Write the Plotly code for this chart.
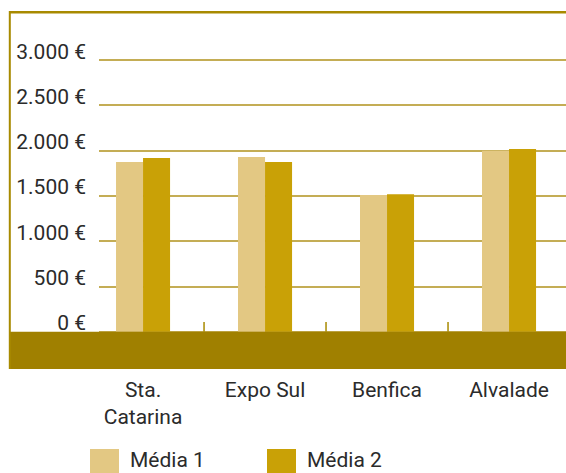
import plotly.graph_objects as go

categories = ["Sta.<br>Catarina", "Expo Sul", "Benfica", "Alvalade"]
series_names = ["Média 1", "Média 2"]
media1 = [1875, 1930, 1510, 2000]
media2 = [1920, 1875, 1520, 2020]
y_ticks = [0, 500, 1000, 1500, 2000, 2500, 3000]
y_tick_labels = ["0 €", "500 €", "1.000 €", "1.500 €", "2.000 €", "2.500 €", "3.000 €"]

colors = ["#e3c883", "#c9a106"]
FONT = "Roboto, Liberation Sans Narrow, sans-serif"
FS = 21
TXT = "#2b2b2b"

x = list(range(len(categories)))

fig = go.Figure()
for name, vals, c in zip(series_names, [media1, media2], colors):
    fig.add_trace(go.Bar(x=x, y=vals, name=name, marker=dict(color=c, line=dict(width=0)),
                         showlegend=False))

W, H = 566, 473
L, R, T, B = 99, 0, 12, 473 - 369
pw, ph = W - L - R, H - T - B

def px2paper_x(px):
    return (px - L) / pw

def px2paper_y(py):
    return (H - B - py) / ph

shapes = []
# floor
shapes.append(dict(type="rect", xref="paper", yref="y", x0=px2paper_x(10), x1=1,
                   y0=-410, y1=0, fillcolor="#a08000", line=dict(width=0), layer="above"))
# borders
shapes.append(dict(type="line", xref="paper", yref="paper", x0=px2paper_x(9.5), x1=1,
                   y0=px2paper_y(12.3), y1=px2paper_y(12.3), line=dict(color="#a88a00", width=2.5)))
shapes.append(dict(type="line", xref="paper", yref="paper", x0=px2paper_x(9.8), x1=px2paper_x(9.8),
                   y0=0, y1=px2paper_y(11), line=dict(color="#a88a00", width=2)))
# category separator ticks
for b in [i + 0.5 for i in range(len(categories) - 1)]:
    shapes.append(dict(type="line", xref="x", yref="y", x0=b, x1=b, y0=0, y1=110,
                       line=dict(color="#a88a00", width=1.5)))

# legend (custom large swatches)
annotations = []
leg_x = [90, 267]
for i, (name, c) in enumerate(zip(series_names, colors)):
    x0 = leg_x[i]
    shapes.append(dict(type="rect", xref="paper", yref="paper",
                       x0=px2paper_x(x0), x1=px2paper_x(x0 + 29),
                       y0=px2paper_y(476), y1=px2paper_y(449),
                       fillcolor=c, line=dict(width=0)))
    annotations.append(dict(xref="paper", yref="paper", x=px2paper_x(x0 + 38), y=px2paper_y(460),
                            text=name, showarrow=False, xanchor="left", yanchor="middle",
                            font=dict(family=FONT, size=FS, color=TXT)))

fig.update_layout(
    width=W, height=H,
    margin=dict(l=L, r=R, t=T, b=B, pad=0),
    paper_bgcolor="white", plot_bgcolor="white",
    barmode="group", bargap=0.557, bargroupgap=0,
    shapes=shapes, annotations=annotations,
    showlegend=False,
    font=dict(family=FONT, size=FS, color=TXT),
)
fig.update_xaxes(range=[-0.361, 3.467], tickvals=x, ticktext=categories,
                 showgrid=False, zeroline=False, showline=False, ticks="",
                 ticklabelstandoff=6, tickfont=dict(family=FONT, size=FS, color=TXT))
fig.update_yaxes(range=[-410, 3532], tickvals=y_ticks, ticktext=y_tick_labels,
                 showgrid=True, gridcolor="#c4ad55", gridwidth=2,
                 zeroline=False, showline=False, ticks="",
                 ticklabelstandoff=12, ticklabelshift=-9,
                 tickfont=dict(family=FONT, size=FS, color=TXT))

fig.write_html("out.html", config={"displayModeBar": False},
               post_script="document.body.style.margin='0';document.body.style.overflow='hidden';")
